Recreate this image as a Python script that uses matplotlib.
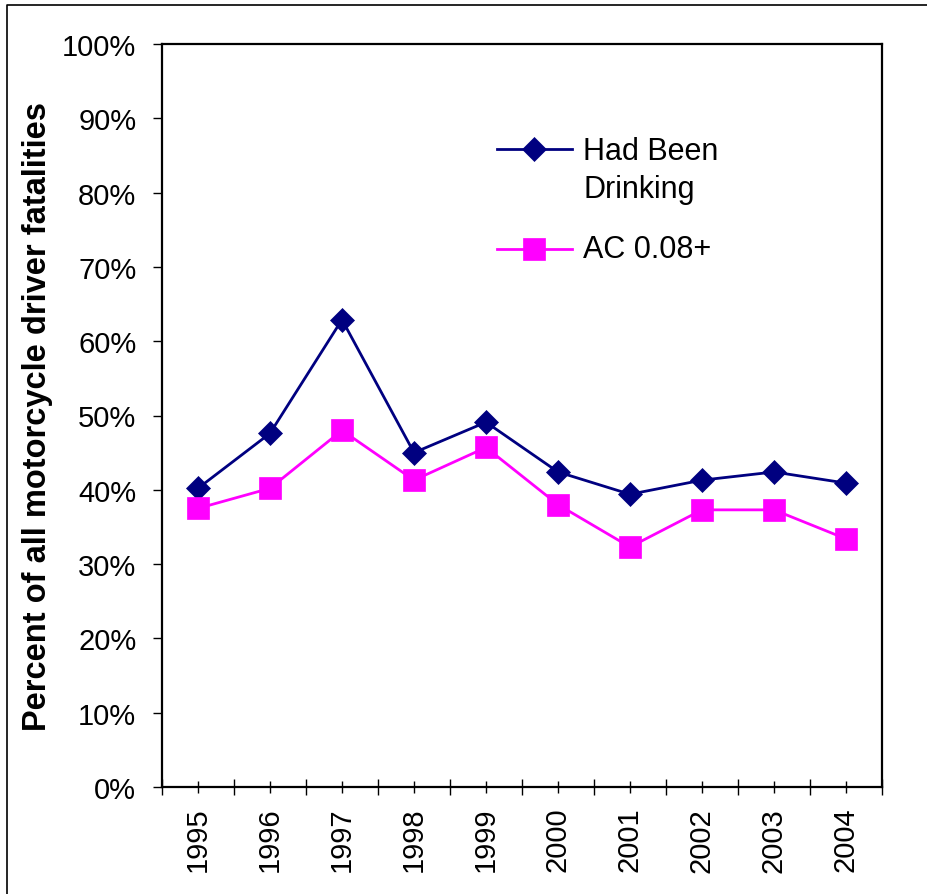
import matplotlib.pyplot as plt
from matplotlib.lines import Line2D
from matplotlib.ticker import FixedLocator, PercentFormatter
import numpy as np

plt.rcParams['font.family'] = ['Liberation Sans', 'DejaVu Sans']

# data (percent of all motorcycle driver fatalities)
years = ['1995', '1996', '1997', '1998', '1999', '2000', '2001', '2002', '2003', '2004']
had_been_drinking = [40.2, 47.6, 62.9, 45.0, 49.1, 42.4, 39.4, 41.3, 42.4, 40.9]
bac_008 = [37.5, 40.2, 48.0, 41.3, 45.7, 38.0, 32.3, 37.3, 37.3, 33.4]
labels = ['Had Been\nDrinking', 'AC 0.08+']
colors = ['#000080', '#FF00FF']

fig = plt.figure(figsize=(9.28, 8.95), dpi=100)
ax = fig.add_axes([162 / 928, 1 - 788 / 895, 720 / 928, 743 / 895])

x = np.arange(len(years))
ax.plot(x, had_been_drinking, color=colors[0], lw=2, marker='D', ms=12.5,
        mec=colors[0], mew=0.5, clip_on=False)
ax.plot(x, bac_008, color=colors[1], lw=2, marker='s', ms=15.5,
        mec=colors[1], mew=0.5, clip_on=False)

ax.set_xlim(-0.5, len(years) - 0.5)
ax.set_ylim(0, 100)

# y axis
ax.set_yticks(np.arange(0, 101, 10))
ax.yaxis.set_major_formatter(PercentFormatter(decimals=0))
ax.tick_params(axis='y', direction='out', length=6.5, width=1, pad=12, labelsize=21)

# x axis: labels at category centres, boundary ticks in between
ax.set_xticks(x)
ax.set_xticklabels(years, rotation=90)
ax.xaxis.set_minor_locator(FixedLocator(np.arange(-0.5, len(years), 1.0)))
ax.tick_params(axis='x', which='major', direction='inout', length=8.5, width=1,
               pad=10, labelsize=21)
ax.tick_params(axis='x', which='minor', direction='inout', length=11.5, width=1)

for s in ax.spines.values():
    s.set_linewidth(1.6)

ax.set_ylabel('Percent of all motorcycle driver fatalities', fontsize=23.5,
              fontweight='bold')
ax.yaxis.set_label_coords(-0.152, 0.5)

# legend drawn by hand so the key sits next to the first text line
key_y = [0.8587, 0.724]
for lab, c, m, ms, ky in zip(labels, colors, ['D', 's'], [12.5, 15.5], key_y):
    ax.plot([0.465, 0.517, 0.569], [ky, ky, ky], transform=ax.transAxes,
            color=c, lw=2, marker=m, ms=ms, mec=c, mew=0.5, markevery=[1],
            clip_on=False)
ax.text(0.585, key_y[0] + 0.017, labels[0], transform=ax.transAxes, fontsize=22,
        va='top', ha='left', linespacing=1.35)
ax.text(0.585, key_y[1], labels[1], transform=ax.transAxes, fontsize=22,
        va='center', ha='left')

# outer frame (only top and left edges visible in the crop)
fig.add_artist(Line2D([7 / 928, 7 / 928, 1], [0, 1 - 6 / 895, 1 - 6 / 895],
                      transform=fig.transFigure, color='black', lw=1.2))

fig.savefig('out.png', dpi=100)
